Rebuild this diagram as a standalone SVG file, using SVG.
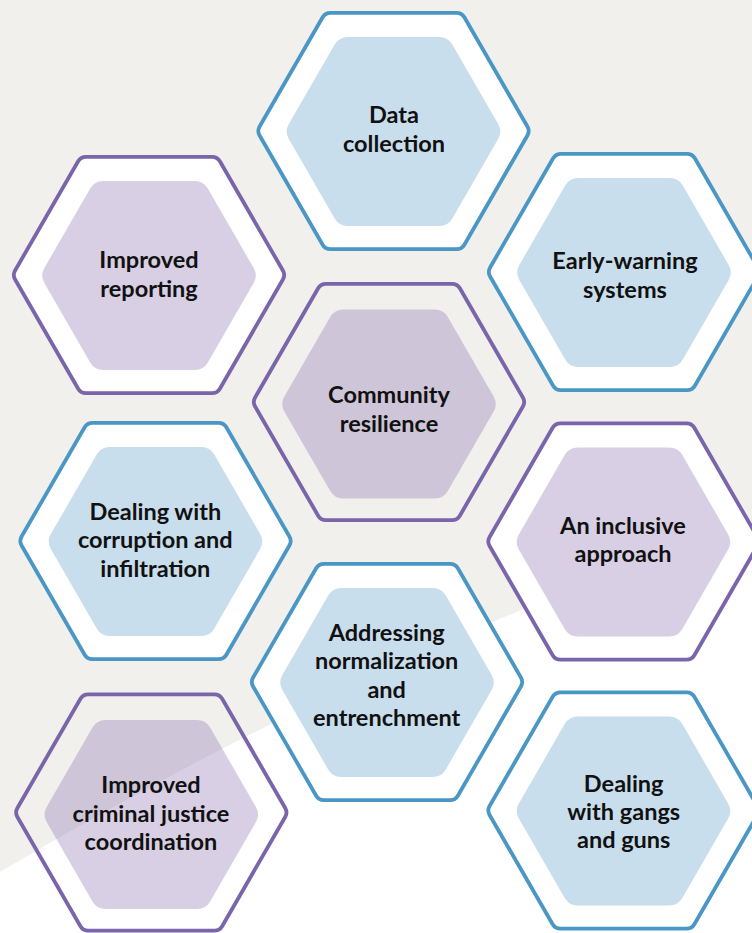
<svg xmlns="http://www.w3.org/2000/svg" xmlns:xlink="http://www.w3.org/1999/xlink" width="752" height="933" viewBox="0 0 752 933">
  <style>
    .ring { stroke-width: 3.8; }
    .ring-blue { stroke: #4a97c6; }
    .ring-purple { stroke: #7a65ab; }
    .ring-white { fill: #ffffff; }
    .ring-clear { fill: none; }
    .core-blue { fill: #c9deed; }
    .core-purple { fill: #8f76b3; fill-opacity: 0.35; }
    .label { font-family: "Lato", "Liberation Sans", sans-serif; font-weight: 700; font-size: 23.5px; fill: #111111; text-anchor: middle; }
  </style>
  <defs>
    <!-- rounded hexagons centred on the origin -->
    <path id="hex-outer" d="M133.9,-4.5 L70.85,-113.71 A9,9 0 0 0 63.05,-118.21 L-63.05,-118.21 A9,9 0 0 0 -70.85,-113.71 L-133.9,-4.5 A9,9 0 0 0 -133.9,4.5 L-70.85,113.71 A9,9 0 0 0 -63.05,118.21 L63.05,118.21 A9,9 0 0 0 70.85,113.71 L133.9,4.5 A9,9 0 0 0 133.9,-4.5 Z"/>
    <path id="hex-inner" d="M104.67,-7.5 L58.83,-86.9 A15,15 0 0 0 45.84,-94.4 L-45.84,-94.4 A15,15 0 0 0 -58.83,-86.9 L-104.67,-7.5 A15,15 0 0 0 -104.67,7.5 L-58.83,86.9 A15,15 0 0 0 -45.84,94.4 L45.84,94.4 A15,15 0 0 0 58.83,86.9 L104.67,7.5 A15,15 0 0 0 104.67,-7.5 Z"/>
  </defs>

  <!-- backdrop: warm grey with a white sweep across the lower part -->
  <rect x="0" y="0" width="752" height="933" fill="#f1f0ed"/>
  <path d="M0,872 Q376,649 752,524 L752,933 L0,933 Z" fill="#ffffff"/>

  <g id="data-collection">
    <use href="#hex-outer" x="393.5" y="131" class="ring ring-blue ring-white"/>
    <use href="#hex-inner" x="393.5" y="131.5" class="core-blue"/>
    <text class="label" x="394" y="122.7">Data<tspan x="394" y="151.7">collection</tspan></text>
  </g>

  <g id="improved-reporting">
    <use href="#hex-outer" x="149" y="275" class="ring ring-purple ring-white"/>
    <use href="#hex-inner" x="149" y="275.5" class="core-purple"/>
    <text class="label" x="149" y="268.3">Improved<tspan x="149" y="296.7">reporting</tspan></text>
  </g>

  <g id="early-warning-systems">
    <use href="#hex-outer" x="624" y="272" class="ring ring-blue ring-white"/>
    <use href="#hex-inner" x="624" y="272.5" class="core-blue"/>
    <text class="label" x="625" y="269.3">Early-warning<tspan x="625" y="297.7">systems</tspan></text>
  </g>

  <g id="community-resilience">
    <use href="#hex-outer" x="389" y="402" class="ring ring-purple ring-clear"/>
    <use href="#hex-inner" x="389" y="404" class="core-purple"/>
    <text class="label" x="389" y="403.3">Community<tspan x="389" y="431.7">resilience</tspan></text>
  </g>

  <g id="corruption-and-infiltration">
    <use href="#hex-outer" x="155.5" y="541" class="ring ring-blue ring-white"/>
    <use href="#hex-inner" x="155.5" y="541.5" class="core-blue"/>
    <text class="label" x="155.3" y="520">Dealing with<tspan x="155.3" y="548.3">corruption and</tspan><tspan x="155.3" y="576.7">infiltration</tspan></text>
  </g>

  <g id="inclusive-approach">
    <use href="#hex-outer" x="623.5" y="541.5" class="ring ring-purple ring-white"/>
    <use href="#hex-inner" x="623.5" y="542" class="core-purple"/>
    <text class="label" x="623" y="533.7">An inclusive<tspan x="623" y="562">approach</tspan></text>
  </g>

  <g id="normalization-and-entrenchment">
    <use href="#hex-outer" x="387" y="682" class="ring ring-blue ring-white"/>
    <use href="#hex-inner" x="387" y="682.5" class="core-blue"/>
    <text class="label" x="386.7" y="640.7">Addressing<tspan x="386.7" y="669.2">normalization</tspan><tspan x="386.7" y="697.7">and</tspan><tspan x="386.7" y="726">entrenchment</tspan></text>
  </g>

  <g id="criminal-justice-coordination">
    <use href="#hex-outer" x="151.3" y="812.5" class="ring ring-purple ring-clear"/>
    <use href="#hex-inner" x="151.3" y="814.5" class="core-purple"/>
    <text class="label" x="151" y="793.3">Improved<tspan x="151" y="821.7">criminal justice</tspan><tspan x="151" y="850">coordination</tspan></text>
  </g>

  <g id="gangs-and-guns">
    <use href="#hex-outer" x="623.5" y="810.5" class="ring ring-blue ring-white"/>
    <use href="#hex-inner" x="623.5" y="811" class="core-blue"/>
    <text class="label" x="623.7" y="791.7">Dealing<tspan x="623.7" y="820">with gangs</tspan><tspan x="623.7" y="848.3">and guns</tspan></text>
  </g>
</svg>
